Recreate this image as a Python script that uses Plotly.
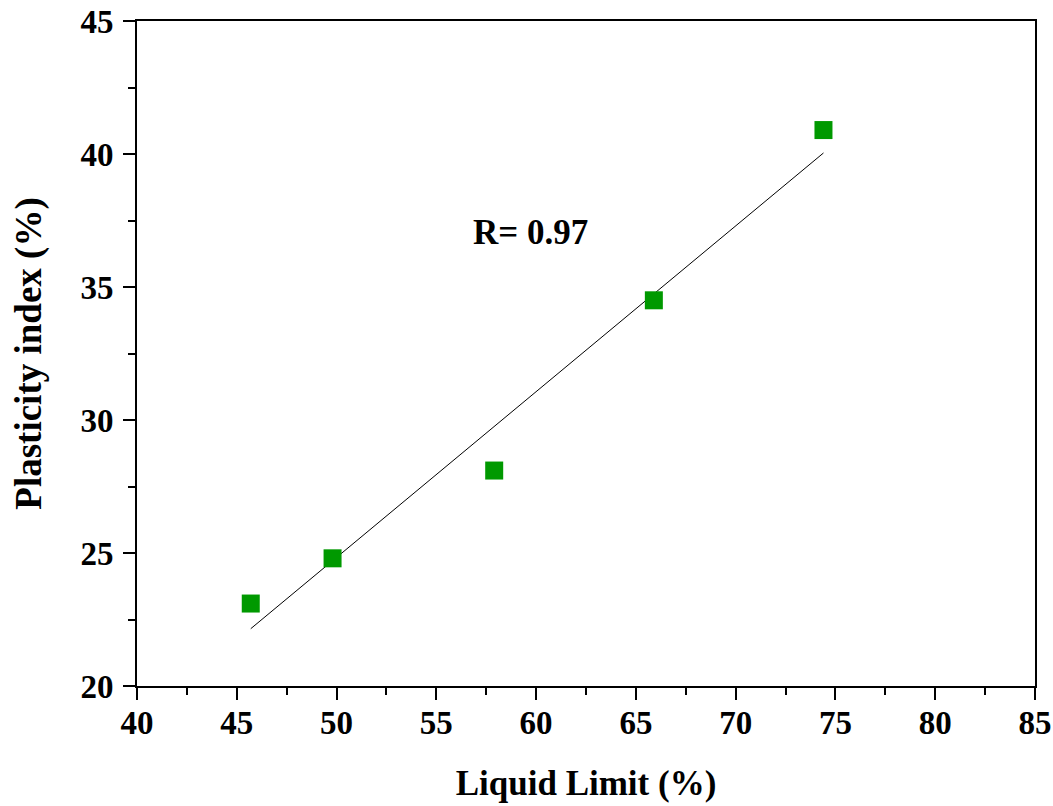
import numpy as np
import plotly.graph_objects as go

liquid_limit = [45.7, 49.8, 57.9, 65.9, 74.4]
plasticity_index = [23.1, 24.8, 28.1, 34.5, 40.9]
r_label = "R= 0.97"

slope, intercept = np.polyfit(liquid_limit, plasticity_index, 1)
fit_x = [min(liquid_limit), max(liquid_limit)]
fit_y = [slope * v + intercept for v in fit_x]

font_family = "Liberation Serif"

fig = go.Figure()
fig.add_trace(go.Scatter(x=fit_x, y=fit_y, mode="lines",
                         line=dict(color="black", width=1), showlegend=False))
fig.add_trace(go.Scatter(x=liquid_limit, y=plasticity_index, mode="markers",
                         marker=dict(symbol="square", size=18, color="#009900",
                                     line=dict(width=0)), showlegend=False))

fig.add_annotation(x=59.7, y=37.05, text="<b>" + r_label + "</b>", showarrow=False,
                   font=dict(family=font_family, size=35, color="black"))

axis_common = dict(showgrid=False, zeroline=False, showline=True, linecolor="black",
                   linewidth=2, mirror=True, ticks="outside", ticklen=12, tickwidth=2,
                   tickcolor="black", automargin=False, ticklabeloverflow="allow",
                   tickfont=dict(family=font_family, size=33, color="black"))

fig.update_xaxes(range=[40, 85], tick0=40, dtick=5,
                 minor=dict(ticks="outside", ticklen=7, tickwidth=2, tickcolor="black", dtick=2.5),
                 title=dict(text="<b>Liquid Limit (%)</b>",
                            font=dict(family=font_family, size=35, color="black"), standoff=31),
                 tickprefix="<b>", ticksuffix="</b>", ticklabelstandoff=-6, **axis_common)
fig.update_yaxes(range=[20, 45], tick0=20, dtick=5,
                 minor=dict(ticks="outside", ticklen=7, tickwidth=2, tickcolor="black", dtick=2.5),
                 title=dict(text="<b>Plasticity index (%)</b>",
                            font=dict(family=font_family, size=37, color="black"), standoff=27),
                 tickprefix="<b>", ticksuffix="</b>", ticklabelstandoff=3, **axis_common)

fig.update_layout(width=1053, height=806, plot_bgcolor="white", paper_bgcolor="white",
                  margin=dict(l=137, r=18, t=21, b=120))

# remove the browser's default page margin so the figure fills the window exactly
fig.write_html("out.html", config={"displayModeBar": False},
               post_script="document.body.style.margin='0';document.body.style.overflow='hidden';")
